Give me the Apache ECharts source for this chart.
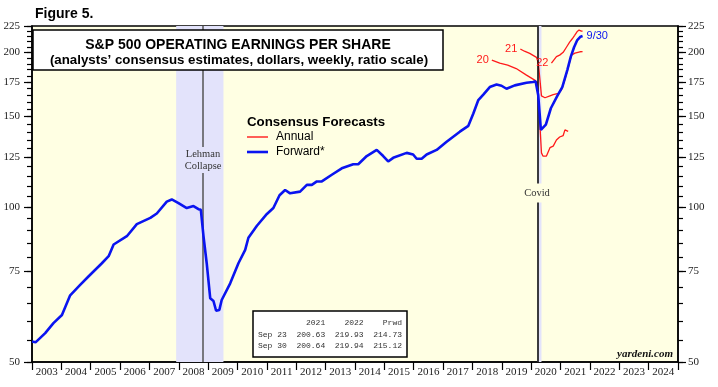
<!DOCTYPE html>
<html><head><meta charset="utf-8">
<script src="https://cdn.jsdelivr.net/npm/echarts@6/dist/echarts.min.js"></script>
<style>html,body{margin:0;padding:0;background:#fff}#c{width:718px;height:387px}</style>
</head><body><div id="c"></div>
<script>
// ---- data ----
const yearLabels = ['2003','2004','2005','2006','2007','2008','2009','2010','2011','2012','2013','2014','2015','2016','2017','2018','2019','2020','2021','2022','2023','2024'];
const yMajor = [50,75,100,125,150,175,200,225];
const yMinor = [50,55,60,65,70,75,80,85,90,95,100,105,110,115,120,125,130,135,140,145,150,155,160,165,170,175,180,185,190,195,200,205,210,215,220,225];

const fwdDates = [2003.00,2003.12,2003.45,2003.73,2004.02,2004.30,2004.64,2004.93,2005.38,2005.61,2005.78,2006.23,2006.57,2007.03,2007.25,2007.59,2007.76,2007.99,2008.27,2008.50,2008.67,2008.75,2008.84,2008.95,2009.07,2009.18,2009.27,2009.38,2009.46,2009.75,2010.03,2010.26,2010.37,2010.66,2011.00,2011.22,2011.43,2011.62,2011.79,2012.13,2012.36,2012.53,2012.70,2012.87,2013.21,2013.55,2013.94,2014.11,2014.40,2014.74,2014.96,2015.13,2015.30,2015.76,2015.98,2016.10,2016.27,2016.44,2016.78,2017.12,2017.57,2017.86,2018.03,2018.20,2018.37,2018.59,2018.82,2018.99,2019.16,2019.44,2019.84,2020.06,2020.15,2020.24,2020.33,2020.37,2020.50,2020.67,2020.89,2021.06,2021.23,2021.35,2021.46,2021.57,2021.68,2021.75];
const fwdValues = [54.8,54.6,56.9,59.5,61.7,67.4,70.6,73.4,77.8,80.3,84.6,87.8,92.7,95.3,97.2,102.5,103.5,101.8,99.6,100.5,99.1,98.8,87.8,77.8,66.5,65.7,62.9,63.1,66.0,71.1,77.8,82.6,87.2,92.0,97.0,99.6,105.5,108.0,106.4,107.2,110.5,110.5,112.2,112.2,115.6,119.0,121.2,121.2,125.7,129.2,125.7,122.7,124.7,127.5,126.6,124.2,124.2,126.6,129.2,134.0,140.2,143.9,152.1,161.5,165.5,171.2,173.1,172.2,169.9,172.5,174.5,175.1,175.6,165.0,141.3,140.7,144.7,155.7,164.6,171.2,184.7,196.2,204.6,211.3,214.5,215.12];

const ann20Dates = [2018.66,2018.93,2019.20,2019.49,2019.84,2020.12,2020.20,2020.25,2020.35,2020.40,2020.52,2020.64,2020.75,2020.86,2020.97,2021.09,2021.15,2021.26];
const ann20Values = [193.2,190.6,188.9,186.0,180.6,176.6,175.0,161.5,127.5,125.7,125.7,130.5,131.4,135.1,136.9,137.8,141.3,140.4];

const ann21Dates = [2019.63,2019.77,2019.95,2020.18,2020.24,2020.30,2020.35,2020.47,2020.64,2020.75,2020.92,2021.03,2021.15,2021.26,2021.37,2021.49,2021.66,2021.75];
const ann21Values = [203.0,201.0,199.0,195.5,191.0,176.6,164.6,163.2,164.6,165.5,166.4,168.9,177.3,186.5,197.5,199.3,200.5,200.64];

const ann22Dates = [2020.69,2020.86,2020.97,2021.09,2021.20,2021.31,2021.40,2021.48,2021.56,2021.63,2021.71,2021.75];
const ann22Values = [190.6,196.2,197.5,200.0,204.6,209.3,212.5,215.8,219.2,220.9,219.9,219.94];

const recessions = [[2007.91, 2009.52], [2020.21, 2020.35]];
const eventLines = [2008.81, 2020.21];

const tableHeader = '          2021    2022    Prwd';
const tableRows = ['Sep 23  200.63  219.93  214.73', 'Sep 30  200.64  219.94  215.12'];

// ---- chart ----
const SERIF = 'Liberation Serif';
const SANS = 'Liberation Sans';
const BLUE = '#0A14F0';
const RED = '#FF1A1A';
const BAND = '#E3E3FB';
const PLOTBG = '#FFFFE3';

const zip = (a, b) => a.map((x, i) => [x, b[i]]);

function yAx(pos, withLabels, ticks, len, margin) {
  return {
    type: 'log', min: 50, max: 225, position: pos,
    axisLine: { show: withLabels, lineStyle: { color: '#000', width: 1.5 } },
    axisTick: { show: true, customValues: ticks, length: len, lineStyle: { color: '#000', width: 1.2 } },
    axisLabel: withLabels ? { show: true, customValues: yMajor, fontFamily: SERIF, fontSize: 11, color: '#222', margin: margin } : { show: false },
    splitLine: { show: false }, minorTick: { show: false }
  };
}

function annSeries(label, dates, values) {
  return {
    name: 'Annual', type: 'line', xAxisIndex: 0, yAxisIndex: 0,
    data: zip(dates, values), showSymbol: false, symbol: 'none', z: 4,
    lineStyle: { color: RED, width: 1.3 }, itemStyle: { color: RED },
    markPoint: {
      symbol: 'circle', symbolSize: 0, silent: true,
      data: [{ coord: [dates[0], values[0]] }],
      label: { show: true, formatter: label, position: 'left', distance: 3, color: RED, fontFamily: SANS, fontSize: 11 }
    }
  };
}

const chart = echarts.init(document.getElementById('c'), null, { renderer: 'canvas' });
chart.setOption({
  animation: false,
  backgroundColor: '#fff',
  grid: { left: 32, right: 40, top: 26, bottom: 25, show: true, backgroundColor: PLOTBG, borderColor: '#000', borderWidth: 1.5 },
  xAxis: [
    { type: 'value', min: 2003, max: 2025, position: 'top', axisLine: { show: false }, axisTick: { show: false }, axisLabel: { show: false }, splitLine: { show: false } },
    { type: 'category', data: yearLabels, boundaryGap: true, position: 'bottom',
      axisLine: { show: true, lineStyle: { color: '#000', width: 1.5 } },
      axisTick: { show: true, alignWithLabel: false, length: 8, lineStyle: { color: '#000', width: 1.2 } },
      axisLabel: { interval: 0, fontFamily: SERIF, fontSize: 11, color: '#222', margin: 5 },
      splitLine: { show: false } }
  ],
  yAxis: [
    yAx('left', true, yMajor, 8, 12),
    yAx('left', false, yMinor, 5, 0),
    yAx('right', true, yMajor, 8, 10),
    yAx('right', false, yMinor, 5, 0)
  ],
  series: [
    { name: 'bands', type: 'line', data: [], xAxisIndex: 0, yAxisIndex: 0, z: 1, silent: true,
      markArea: { silent: true, itemStyle: { color: BAND }, data: recessions.map(r => [{ xAxis: r[0] }, { xAxis: r[1] }]) },
      markLine: { silent: true, symbol: 'none', label: { show: false },
        data: [{ xAxis: eventLines[0], lineStyle: { color: '#555', width: 1.5, type: 'solid' } },
               { xAxis: eventLines[1], lineStyle: { color: '#000', width: 1.5, type: 'solid' } }] } },
    annSeries('20', ann20Dates, ann20Values),
    annSeries('21', ann21Dates, ann21Values),
    annSeries('22', ann22Dates, ann22Values),
    { name: 'Forward*', type: 'line', xAxisIndex: 0, yAxisIndex: 0, z: 5,
      data: zip(fwdDates, fwdValues), showSymbol: false, symbol: 'none',
      lineStyle: { color: BLUE, width: 2.6 }, itemStyle: { color: BLUE },
      endLabel: { show: true, formatter: '9/30', color: BLUE, fontFamily: SANS, fontSize: 11, distance: 4 } }
  ],
  graphic: [
    { type: 'text', left: 35, top: 7, style: { text: 'Figure 5.', font: 'bold 14px "Liberation Sans"', fill: '#000' } },
    { type: 'rect', shape: { x: 33, y: 30, width: 410, height: 40 }, style: { fill: '#fff', stroke: '#000', lineWidth: 1.5 }, z: 100 },
    { type: 'text', x: 238, y: 45, z: 101, style: { text: 'S&P 500 OPERATING EARNINGS PER SHARE', font: 'bold 14px "Liberation Sans"', fill: '#000', align: 'center', verticalAlign: 'middle' } },
    { type: 'text', x: 239, y: 60, z: 101, style: { text: '(analysts\u2019 consensus estimates, dollars, weekly, ratio scale)', font: 'bold 13.3px "Liberation Sans"', fill: '#000', align: 'center', verticalAlign: 'middle' } },
    { type: 'text', x: 247, y: 122, z: 101, style: { text: 'Consensus Forecasts', font: 'bold 13.3px "Liberation Sans"', fill: '#000', verticalAlign: 'middle' } },
    { type: 'line', z: 101, shape: { x1: 247, y1: 137, x2: 268, y2: 137 }, style: { stroke: RED, lineWidth: 1.4 } },
    { type: 'text', x: 276, y: 137, z: 101, style: { text: 'Annual', font: '12px "Liberation Sans"', fill: '#000', verticalAlign: 'middle' } },
    { type: 'line', z: 101, shape: { x1: 247, y1: 152, x2: 268, y2: 152 }, style: { stroke: BLUE, lineWidth: 2.6 } },
    { type: 'text', x: 276, y: 152, z: 101, style: { text: 'Forward*', font: '12px "Liberation Sans"', fill: '#000', verticalAlign: 'middle' } },
    { type: 'text', x: 203, y: 160, z: 101, style: { text: 'Lehman\nCollapse', font: '10.5px "Liberation Serif"', fill: '#333', align: 'center', verticalAlign: 'middle', lineHeight: 12, backgroundColor: BAND, padding: [1, 0, 1, 0] } },
    { type: 'text', x: 537, y: 193, z: 101, style: { text: 'Covid', font: '10.5px "Liberation Serif"', fill: '#333', align: 'center', verticalAlign: 'middle', backgroundColor: PLOTBG, padding: [4, 0, 4, 0] } },
    { type: 'rect', shape: { x: 253, y: 311, width: 154, height: 46 }, style: { fill: '#fff', stroke: '#000', lineWidth: 1.5 }, z: 100 },
    { type: 'text', x: 258, y: 323, z: 101, style: { text: tableHeader, font: '8px "Liberation Mono"', fill: '#333', verticalAlign: 'middle' } },
    { type: 'text', x: 258, y: 335, z: 101, style: { text: tableRows[0], font: '8px "Liberation Mono"', fill: '#333', verticalAlign: 'middle' } },
    { type: 'text', x: 258, y: 346, z: 101, style: { text: tableRows[1], font: '8px "Liberation Mono"', fill: '#333', verticalAlign: 'middle' } },
    { type: 'text', x: 673, y: 354, z: 101, style: { text: 'yardeni.com', font: 'italic bold 11px "Liberation Serif"', fill: '#111', align: 'right', verticalAlign: 'middle' } }
  ]
});
</script></body></html>
